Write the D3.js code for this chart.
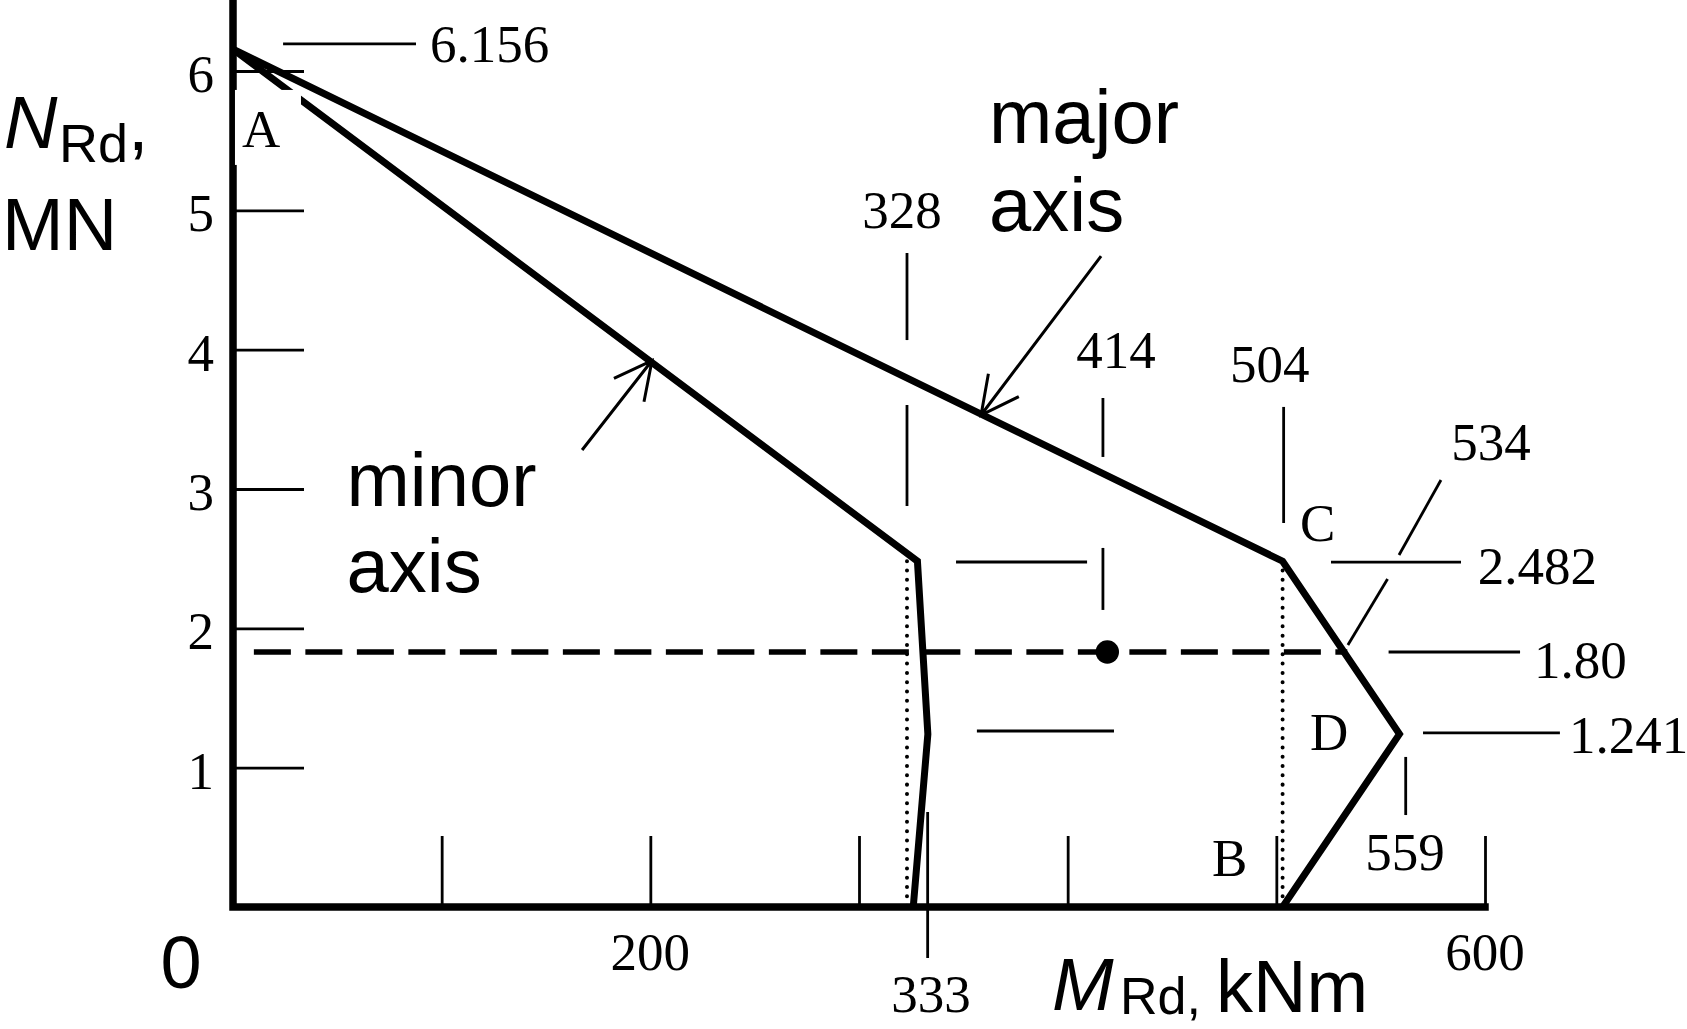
<!DOCTYPE html>
<html><head><meta charset="utf-8">
<script src="https://cdn.jsdelivr.net/npm/d3@7"></script>
<style>html,body{margin:0;padding:0;background:#fff;} svg{display:block}</style>
</head><body>
<svg id="c" width="1687" height="1029"></svg>
<script>
// ---- data ----
const xTicks = [100, 200, 300, 400, 500, 600];
const yTicks = [1, 2, 3, 4, 5, 6];
const yTickLabels = ["1", "2", "3", "4", "5", "6"];
const xTickLabelValues = [200, 600];
const xTickLabels = ["200", "600"];
const majorM = [0, 503, 559, 503];
const majorN = [6.156, 2.482, 1.241, 0];
const minorM = [0, 328, 333, 326];
const minorN = [6.156, 2.482, 1.241, 0];
const designLevelN = 1.83;          // drawn level of N_Ed = 1.80
const designLineM = [10, 534];
const designPointM = 419;
const dottedM = [323, 503];
const dottedTopN = 2.482;

// annotation values: leader lines [m1,n1,m2,n2]
const leaders = [
  [24, 6.194, 87.7, 6.194],        // 6.156
  [323, 4.694, 323, 4.069],        // 328 upper
  [323, 3.603, 323, 2.878],        // 328 lower
  [416.9, 3.653, 416.9, 3.23],     // 414 upper
  [416.9, 2.577, 416.9, 2.132],    // 414 lower
  [346.5, 2.476, 409.3, 2.476],    // 2.482 level (minor side)
  [356.5, 1.263, 422.2, 1.263],    // 1.241 level (minor side)
  [503.5, 3.589, 503.5, 2.756],    // 504
  [578.9, 3.065, 558.8, 2.526],    // 534 upper
  [553.3, 2.354, 534.3, 1.88],     // 534 lower
  [526.2, 2.475, 588.5, 2.475],    // 2.482
  [553.8, 1.83, 616.8, 1.83],      // 1.80
  [570.3, 1.249, 635.9, 1.249],    // 1.241
  [562, 1.077, 562, 0.66],         // 559
  [332.9, 0.682, 332.9, -0.366]    // 333
];
const serifLabels = [
  {t: "6.156", m: 94.4, n: 6.065, a: "start"},
  {t: "328", m: 320.6, n: 4.873, a: "middle"},
  {t: "414", m: 423.2, n: 3.868, a: "middle"},
  {t: "504", m: 496.9, n: 3.768, a: "middle"},
  {t: "534", m: 602.9, n: 3.208, a: "middle"},
  {t: "2.482", m: 596.5, n: 2.318, a: "start"},
  {t: "1.80", m: 623.5, n: 1.644, a: "start"},
  {t: "1.241", m: 640.3, n: 1.105, a: "start"},
  {t: "559", m: 561.7, n: 0.266, a: "middle"},
  {t: "333", m: 334.5, n: -0.754, a: "middle"},
  {t: "A", m: 4.3, n: 5.455, a: "start"},
  {t: "B", m: 469.2, n: 0.222, a: "start"},
  {t: "C", m: 511.3, n: 2.627, a: "start"},
  {t: "D", m: 516.1, n: 1.127, a: "start"}
];
const curveLabels = [
  {lines: ["major", "axis"], m: 362.3, n: [5.483, 4.852]},
  {lines: ["minor", "axis"], m: 54.4, n: [2.878, 2.261]}
];
const arrows = [
  [167.3, 3.28, 200.8, 3.922],   // minor
  [416.0, 4.672, 358.5, 3.531]   // major
];

// ---- drawing ----
const SERIF = "'Liberation Serif','Times New Roman',serif";
const SANS = "'Liberation Sans',Arial,sans-serif";
const svg = d3.select("#c");
const x = d3.scaleLinear().domain([0, 600]).range([233, 1485]);
const y = d3.scaleLinear().domain([0, 6]).range([907, 71]);

// ticks via d3 axes
const gx = svg.append("g").attr("transform", `translate(0,${y(0)})`)
  .call(d3.axisTop(x).tickValues(xTicks).tickSize(71).tickSizeOuter(0).tickFormat(""));
const gy = svg.append("g").attr("transform", `translate(${x(0)},0)`)
  .call(d3.axisRight(y).tickValues(yTicks).tickSize(71).tickSizeOuter(0).tickFormat(""));
[gx, gy].forEach(g => {
  g.select(".domain").remove();
  g.selectAll(".tick line").attr("stroke", "#000").attr("stroke-width", 2.8);
});

const line = d3.line().x(d => x(d[0])).y(d => y(d[1]));

// dotted verticals
dottedM.forEach(m => {
  svg.append("path").attr("d", line([[m, dottedTopN], [m, 0]]))
    .attr("fill", "none").attr("stroke", "#000").attr("stroke-width", 4)
    .attr("stroke-linecap", "round").attr("stroke-dasharray", "0.01 9.3");
});

// dashed design line
svg.append("path").attr("d", line([[designLineM[0], designLevelN], [designLineM[1], designLevelN]]))
  .attr("fill", "none").attr("stroke", "#000").attr("stroke-width", 5.5)
  .attr("stroke-dasharray", "37 14.5");

// leader lines
leaders.forEach(l => {
  svg.append("path").attr("d", line([[l[0], l[1]], [l[2], l[3]]]))
    .attr("fill", "none").attr("stroke", "#000").attr("stroke-width", 2.8);
});

// interaction curves
[[majorM, majorN], [minorM, minorN]].forEach(([ms, ns]) => {
  svg.append("path").attr("d", line(ms.map((m, i) => [m, ns[i]])))
    .attr("fill", "none").attr("stroke", "#000").attr("stroke-width", 7)
    .attr("stroke-linejoin", "miter");
});

// design point
svg.append("circle").attr("cx", x(designPointM)).attr("cy", y(designLevelN))
  .attr("r", 11.7).attr("fill", "#000");

// arrows
arrows.forEach(a => {
  const x1 = x(a[0]), y1 = y(a[1]), x2 = x(a[2]), y2 = y(a[3]);
  const ang = Math.atan2(y1 - y2, x1 - x2);
  const L = 42, h = 27 * Math.PI / 180;
  const p = d3.path();
  p.moveTo(x1, y1); p.lineTo(x2, y2);
  p.moveTo(x2 + L * Math.cos(ang + h), y2 + L * Math.sin(ang + h));
  p.lineTo(x2, y2);
  p.lineTo(x2 + L * Math.cos(ang - h), y2 + L * Math.sin(ang - h));
  svg.append("path").attr("d", p.toString()).attr("fill", "none")
    .attr("stroke", "#000").attr("stroke-width", 3);
});

// axes lines
svg.append("path").attr("d", line([[0, 6.6], [0, 0], [600, 0]]))
  .attr("fill", "none").attr("stroke", "#000").attr("stroke-width", 7.5)
  .attr("stroke-linecap", "square").attr("stroke-linejoin", "miter");

// white box behind "A"
const aLab = serifLabels.find(d => d.t === "A");
svg.append("rect").attr("x", x(aLab.m) - 7).attr("y", y(aLab.n) - 57)
  .attr("width", 66).attr("height", 75).attr("fill", "#fff");

// y tick labels
svg.append("g").selectAll("text").data(yTicks).join("text")
  .attr("x", x(0) - 19).attr("y", d => y(d) + 21)
  .attr("text-anchor", "end").attr("font-family", SERIF).attr("font-size", 53)
  .text((d, i) => yTickLabels[i]);

// x tick labels
svg.append("g").selectAll("text").data(xTickLabelValues).join("text")
  .attr("x", d => x(d)).attr("y", y(-0.452))
  .attr("text-anchor", "middle").attr("font-family", SERIF).attr("font-size", 53)
  .text((d, i) => xTickLabels[i]);

// serif annotation labels
svg.append("g").selectAll("text").data(serifLabels).join("text")
  .attr("x", d => x(d.m)).attr("y", d => y(d.n))
  .attr("text-anchor", d => d.a).attr("font-family", SERIF).attr("font-size", 53)
  .text(d => d.t);

// curve labels
curveLabels.forEach(c => {
  c.lines.forEach((t, i) => {
    svg.append("text").attr("x", x(c.m)).attr("y", y(c.n[i]))
      .attr("font-family", SANS).attr("font-size", 76).text(t);
  });
});

// origin "0"
svg.append("text").attr("x", 181).attr("y", 988).attr("text-anchor", "middle")
  .attr("font-family", SANS).attr("font-size", 74).text("0");

// y axis title
const yt = svg.append("g").attr("font-family", SANS);
yt.append("text").attr("x", 4).attr("y", 148).attr("font-size", 74).attr("font-style", "italic").text("N");
yt.append("text").attr("x", 59).attr("y", 162).attr("font-size", 54).text("Rd");
yt.append("text").attr("x", 128).attr("y", 150).attr("font-size", 74).text(",");
yt.append("text").attr("x", 2).attr("y", 250).attr("font-size", 74).text("MN");

// x axis title
const xt = svg.append("g").attr("font-family", SANS);
xt.append("text").attr("x", 1052).attr("y", 1010).attr("font-size", 74).attr("font-style", "italic").text("M");
xt.append("text").attr("x", 1120).attr("y", 1014).attr("font-size", 52).text("Rd,");
xt.append("text").attr("x", 1216).attr("y", 1012).attr("font-size", 74).text("kNm");
</script>
</body></html>
